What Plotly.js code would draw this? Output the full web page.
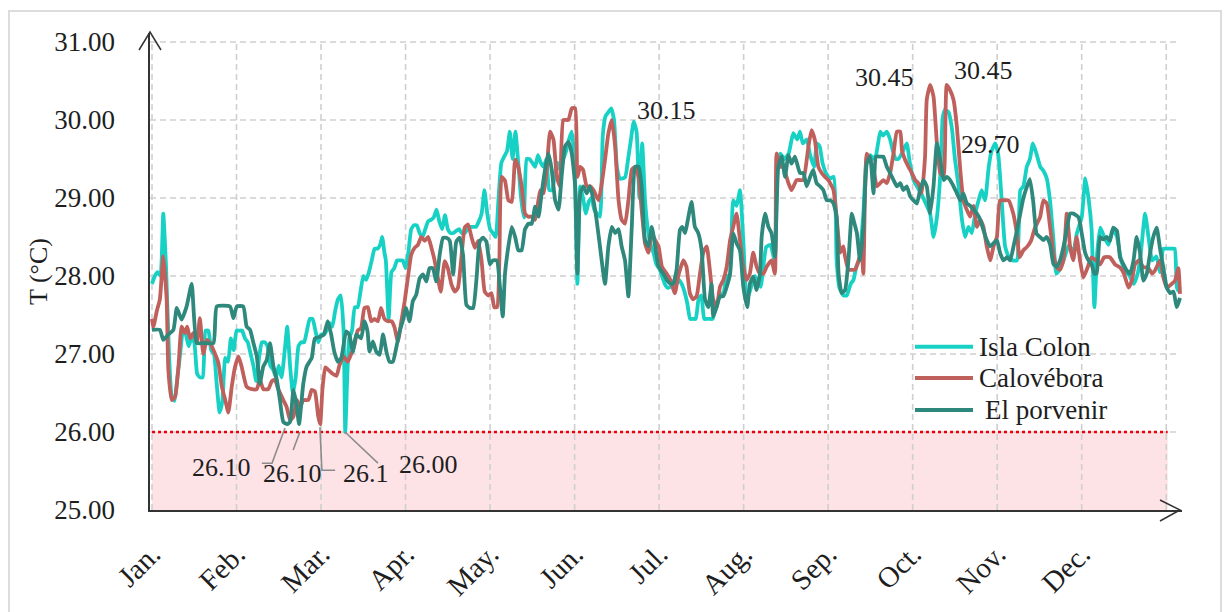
<!DOCTYPE html>
<html>
<head>
<meta charset="utf-8">
<script src="https://cdn.plot.ly/plotly-3.0.1.min.js"></script>
<style>
html,body{margin:0;padding:0;background:#fff;overflow:hidden;}
#wrap{position:relative;width:1232px;height:612px;overflow:hidden;}
#frame{position:absolute;left:8px;top:10px;width:1214px;height:640px;border:2px solid #dcdcdc;box-sizing:border-box;pointer-events:none;z-index:5;}
#chart{position:absolute;left:0;top:0;width:1232px;height:612px;}
</style>
</head>
<body>
<div id="wrap"><div id="chart"></div><div id="frame"></div></div>
<script>
// ---------- data (day of year, temperature °C) ----------
const months = ['Jan.','Feb.','Mar.','Apr.','May.','Jun.','Jul.','Aug.','Sep.','Oct.','Nov.','Dec.'];
const monthDays = [0,30,60,90,120,150,180,210,240,270,300,330];
const gridDays = [0,30,60,90,120,150,180,210,240,270,300,330,360];
const yTicks = [25,26,27,28,29,30,31];
const yTickText = ['25.00','26.00','27.00','28.00','29.00','30.00','31.00'];
const seriesNames = ['Isla Colon','Calovébora','El porvenir'];

const islaDays = [0,1,2,3,4,5,6,7,8,9,10,11,12,13,14,15,16,17,18,19,20,21,22,23,24,25,26,27,28,29,30,31,32,33,34,35,36,37,38,39,40,41,42,43,44,45,46,47,48,49,50,51,52,53,54,55,56,57,58,59,60,
61,62,63,64,65,66,67,68,68.6,69.3,70,71,72,73,74,75,76,77,78,79,80,81,81.7,82.5,83,84,85,86,87,88,89,90,91,92,93,94,95,96,97,98,99,100,101,102,103,104,105,106,107,108,109,110,111,112,113,114,115,116,117,118,119,120,121,122,123,124,125,126,127,128,129,130,131,132,133,134,135,136,137,138,139,140,141,142,143,144,145,146,147,148,149,150,151,152,153,154,155,156,157,158,159,160,161,162,163,164,165,166,167,168,169,170,171,172,173,174,175,176,177,178,179,180,181,182,183,184,185,186,187,188,189,190,191,192,193,194,195,196,197,198,199,200,201,202,203,204,205,206.3,207.5,208.7,210,211,212,214,216,218,219.5,221,222,223,224.5,226,227.6,229,230,231,232.4,233.6,235,236,237,238,239.5,240.7,242,243,244,245.4,246.6,248,249,250,251,252.5,253.7,255,256,257,258.5,259.5,260.8,262,263,264,265,266.5,267.9,269,270.3,271.5,273,275,276.2,277.4,278.6,279.8,280.7,281.5,282.7,283.9,285,286.3,287.5,288.6,289.8,291,292.2,293.4,294.5,295.7,297,298,299.3,300.4,301.6,302.8,304,305.5,307,308.2,309.3,310.5,311.6,312.7,314,315.3,316.4,317.6,318.8,320,321,322.5,324,325.5,327,328.3,330,331.3,332.5,333.5,334.5,335.5,336.6,338,339.5,341,342.5,344,345.4,347,348.5,350,351,352.5,353.7,355,356.5,357.8,359,360.5,362,363,363.8,364.5];
const islaTemp = [27.9,28.0,28.05,28.0,28.8,28.1,27.05,26.45,26.4,26.7,27.0,27.3,27.25,27.1,27.2,27.15,26.75,26.7,26.7,27.3,27.3,27.05,27.0,26.6,26.25,26.4,26.95,26.9,27.2,27.05,27.3,27.3,27.3,27.2,27.15,27.0,26.85,26.65,26.95,27.15,27.15,27.1,26.85,26.8,26.7,26.85,26.7,27.0,27.35,26.85,26.5,26.7,27.1,27.15,27.15,27.3,27.45,27.45,27.3,27.15,27.25,
27.25,27.3,27.4,27.35,27.55,27.7,27.75,27.3,26.0,26.7,27.2,27.3,27.6,27.6,27.8,28.0,27.95,28.05,28.2,28.35,28.35,28.4,28.5,28.3,28.2,27.45,28.05,28.1,28.2,28.2,28.2,28.1,28.3,28.6,28.65,28.65,28.55,28.5,28.6,28.7,28.72,28.75,28.85,28.7,28.6,28.78,28.6,28.55,28.55,28.58,28.6,28.55,28.55,28.6,28.63,28.63,28.63,28.7,28.8,29.1,28.8,28.6,28.55,28.5,29.0,29.45,29.53,29.6,29.85,29.5,29.85,29.45,29.0,28.75,29.5,29.5,29.45,29.4,29.55,29.45,29.4,29.5,29.1,29.1,29.3,29.45,29.35,29.5,29.6,29.75,29.85,29.45,27.9,29.15,29.0,28.8,28.95,29.0,28.85,28.8,28.76,29.8,30.05,30.1,30.15,30.0,29.4,29.25,29.25,29.27,29.5,29.75,29.98,29.85,29.0,29.7,28.97,28.6,28.4,28.3,28.15,28.1,28.0,27.9,27.85,27.86,27.9,27.9,27.95,27.9,27.8,27.65,27.45,27.45,27.45,27.7,27.75,27.45,27.45,27.45,27.45,27.6,27.7,27.75,27.8,28.0,28.0,28.97,28.9,29.1,28.37,27.7,27.78,28.0,27.86,28.37,28.4,28.2,29.4,29.57,29.5,29.57,29.83,29.75,29.85,29.7,29.75,29.55,29.4,29.7,29.66,29.45,29.3,29.25,29.27,28.2,27.85,27.75,27.75,27.9,27.95,28.12,28.2,28.8,29.5,29.55,29.5,29.55,29.85,29.8,29.85,29.75,29.6,29.5,29.5,29.6,29.7,29.45,29.23,29.15,29.06,28.9,28.8,28.5,28.75,29.3,30.04,30.13,30.1,29.9,29.5,29.15,28.72,28.5,28.63,28.55,28.8,28.97,29.1,28.97,29.4,29.6,29.7,29.55,28.97,28.38,28.25,28.2,28.2,29.1,29.15,29.4,29.5,29.7,29.56,29.4,29.35,29.25,28.95,28.45,28.03,28.1,28.25,28.4,28.3,28.55,28.75,29.25,28.97,28.6,27.6,28.3,28.62,28.5,28.4,28.6,28.5,28.2,28.07,28.0,27.9,28.05,28.3,28.8,28.5,28.2,28.25,28.05,28.35,28.35,28.35,28.35,27.85,27.8];

const caloDays = [0,0.5,1.7,2.8,4,5.2,5.8,7,8.2,9.4,10.5,11.7,12.5,13.5,14.7,15.9,17,18.2,19.4,20.6,22.4,23.6,24.8,26,27.1,28.3,29.5,30.7,31.8,33.6,35.4,37.2,38.3,39.5,41.3,42.5,43.6,44.8,46.6,47.8,49,50.2,51.4,52.6,53.7,55.5,56.7,57.8,59,59.7,60.5,61.5,62.5,64,65.5,66.5,68,69.5,70.7,71.9,73,74.2,75.4,76.6,77.8,79,80.2,81.3,82.5,83.7,85,86,87.3,88.5,89.7,90.8,92,93.2,94.4,95.6,96.8,98,99.2,100.3,101.5,102.5,103.9,105,106.3,107.5,108.6,109.8,111,112.2,113.4,114.6,115.8,117,118.1,119.3,120.5,121.5,122.5,123.3,124.1,125.3,126.5,127.7,128.9,130,131.2,132.4,133.6,134.8,136,137.8,139,140.1,141.3,142.5,143.7,144.8,146,147.8,149,150.2,151,152,153,154.3,155.5,156.7,158.5,159.7,160.8,162,163.2,164.4,165.6,166.7,167.9,169.1,170.3,171.5,172.7,173.8,175,176.2,177.4,178.6,179.8,181,182.7,184,185.6,186.8,188.6,189.7,190.9,192,193.3,194.5,195.7,196.9,198,199.2,200.4,201.6,202.8,204,205.2,206.3,207.5,208.7,209.9,211,212.2,213.4,214.6,215.8,217,218.2,219.9,221.1,221.7,222.9,224,225.9,227,228.8,230,231.2,233,234.1,235.3,236.5,237.7,238.9,240,240.7,241.9,243,244.3,245.4,246,247.2,248.4,249.6,250.8,251.9,252.5,253.7,254.9,256.1,257.3,258.5,259.6,260.8,262,263.2,264.4,265.6,266.2,267.3,268.5,269.7,270.9,272,273.2,274.4,275,276.2,277.4,278.6,279.8,281,282.1,283.3,284.5,285.7,286.9,288,289.2,290.4,291.6,292.8,294,295.1,296.3,297.5,298.7,299.9,301,302.5,304,305.7,307,308,309.3,310.5,312,313.4,315.2,316.4,317.6,318.8,320,321.1,322.3,323.5,324.7,325.9,327,328.2,329.4,330.6,332,333.5,335,336.5,338,340,341.8,343.6,345,346.6,347.8,348.9,350.3,351.9,353.5,355,356,357.8,359,360.2,362,363.1,364.3,364.9];
const caloTemp = [27.45,27.35,27.55,27.7,28.25,27.7,26.8,26.41,26.45,26.84,27.35,27.27,27.35,27.2,27.27,27.14,27.46,27.0,27.18,27.14,27.0,26.88,26.58,26.41,26.25,26.58,26.84,26.97,26.84,26.58,26.55,26.55,26.67,26.55,26.55,26.65,26.67,26.55,26.41,26.32,26.15,26.2,26.41,26.32,26.41,26.41,26.54,26.52,26.2,26.1,26.55,26.83,26.8,26.75,26.72,26.85,26.97,26.9,27.0,27.12,27.3,27.33,27.59,27.6,27.42,27.45,27.42,27.59,27.45,27.42,27.42,27.35,27.16,27.42,27.68,27.97,28.27,28.36,28.4,28.5,28.45,28.5,28.36,28.2,27.97,27.8,28.19,28.1,27.89,27.8,27.85,28.23,28.62,28.66,28.5,28.36,28.45,28.19,27.8,27.75,27.78,27.6,27.6,28.2,29.27,29.22,28.97,28.95,29.49,29.4,29.15,28.8,28.76,28.76,28.72,29.1,29.06,29.36,29.85,29.75,29.27,29.15,30.0,30.0,30.15,30.15,29.27,29.4,29.36,29.15,29.15,29.1,28.97,29.2,29.49,29.83,30.0,29.66,28.97,28.72,28.67,28.97,29.36,29.4,29.27,28.85,28.42,28.3,28.55,28.46,28.38,28.12,28.03,27.95,27.78,28.0,28.2,28.12,27.78,27.7,27.74,28.03,28.3,28.38,28.08,27.7,27.6,27.86,27.95,28.12,28.46,28.63,28.8,28.46,28.12,27.95,28.03,28.3,28.12,28.03,28.03,28.12,28.2,28.03,29.57,29.4,29.4,29.19,29.1,29.23,29.23,29.23,29.66,29.87,29.74,29.4,29.32,29.27,29.23,29.19,29.1,28.76,28.3,28.38,28.25,28.08,28.08,28.08,28.2,28.3,28.03,29.57,29.49,29.36,29.15,29.19,29.23,29.19,29.32,29.57,29.85,29.85,29.61,29.49,29.4,29.32,29.23,29.19,29.06,29.53,30.26,30.45,30.3,29.7,29.32,29.27,30.45,30.38,30.26,29.91,29.36,28.97,28.85,28.76,28.9,28.63,28.72,28.63,28.38,28.2,28.38,28.5,28.97,28.97,28.97,28.8,28.54,28.24,28.33,28.37,28.45,28.62,28.75,28.97,28.93,28.62,28.28,28.11,28.08,28.2,28.8,28.37,28.2,28.5,28.2,27.98,28.1,28.24,28.2,28.15,28.24,28.24,28.15,28.11,28.03,27.85,27.94,28.15,28.2,28.11,28.11,28.03,28.07,28.2,27.98,27.85,27.9,27.94,28.1,27.77];

const porvDays = [0,2.8,4,5.8,7.6,8.8,10.5,12.3,14.1,15.9,18.2,21.8,23,27.7,28.9,30.1,32.4,33.6,34.8,36,37.2,38.3,39.5,40.7,41.9,43.1,44.3,45.4,46.6,48,49,50.2,51.3,52.2,53.7,54.9,56.7,57.8,59.6,61,62.4,63.6,64.7,66,67.2,68.9,70,71.3,72.5,74.2,75.4,76.5,77.2,78.4,79.6,80.8,82,83.2,84.3,85.5,86.7,87.9,89,90.2,91.4,92.6,93.8,95,96.2,97.4,98.5,99.7,100.9,102.1,103.3,104.5,105.7,106.9,108,109.2,110.4,111.6,112.8,114,115.2,116.3,117.5,118.7,119.9,121,122.4,123.5,124.5,125.3,126.5,127.7,128.9,130,131.2,132.4,133.6,134.8,136,137.2,138.3,139.5,140.7,141.9,143.1,144.3,145.5,146.6,147.8,149,150.2,151,152,153.1,154.3,155.5,156.7,157.8,159,160.8,162,163.2,164.4,165.6,166.7,167.9,169.1,170.3,171.5,172.7,173.8,175,176.2,177.4,178.6,179.8,181.5,182.7,184,185,186.2,187.4,188.2,189.2,190,191.5,192.1,192.7,193.9,195.1,196.3,197.5,198.6,199.2,200.4,201.6,202.8,204,205.2,206.3,207.5,208.7,209.9,211.3,212.2,213.4,214.6,215.8,216.4,217.6,218.8,219.9,221.1,222.3,223.5,224.7,225.9,227,228.2,230,231.2,232.4,233.6,234.7,235.9,237.1,238.3,239.5,240.7,241.9,243,243.7,244.8,246,247.2,248.4,249,250.2,251.3,252.5,253.7,254.9,256.1,257,258.5,259.6,260.8,262,263.2,264.4,265.6,266.7,267.9,269.1,270.3,271.5,272.6,273.8,275,276.2,277.4,278.6,279.8,281,282.1,283.3,284.5,285.7,286.9,288,289.2,290.4,291.6,292.8,294,295.1,296.3,297.5,298.7,299.9,301,302.2,303.5,304.6,305.8,307,308.2,309.3,310.5,311.6,312.8,314,315.2,316.4,317.6,318.8,320,321.2,322.3,323.5,324.7,325.9,327.1,328.9,330,331.2,332.4,333.5,334.5,335.3,336.5,337.7,338.9,340,341.2,342.5,343.6,344.8,346,347.2,348.4,349.5,350.7,351.9,353.1,354.3,355.4,356.6,357.8,359,360.2,361.4,362.6,363.7,364.9];
const porvTemp = [27.31,27.31,27.18,27.25,27.31,27.59,27.44,27.61,27.9,27.14,27.14,27.14,27.61,27.61,27.46,27.61,27.61,27.35,27.31,27.14,26.97,26.62,26.84,26.92,27.14,26.84,26.67,26.41,26.13,26.1,26.13,26.54,26.35,26.1,26.62,26.84,26.95,27.2,27.22,27.25,27.42,27.25,27.03,26.9,26.95,27.29,27.25,27.03,27.25,27.2,27.42,27.29,27.03,27.16,27.03,26.99,27.25,27.03,26.9,26.9,27.08,27.29,27.42,27.59,27.42,27.68,27.76,27.97,28.02,27.93,28.1,28.1,27.93,28.27,28.49,28.49,28.45,28.02,28.44,28.49,28.27,27.63,27.59,27.59,27.97,28.44,28.49,28.44,28.15,28.2,28.2,27.86,27.48,28.03,28.38,28.63,28.5,28.33,28.33,28.6,28.67,28.67,28.89,28.76,29.06,29.36,29.57,29.36,28.97,28.85,29.32,29.66,29.72,29.57,29.15,28.03,29.06,29.15,29.06,29.15,28.97,28.72,28.38,27.9,28.38,28.63,28.55,28.6,28.38,28.2,27.74,28.63,29.4,29.4,29.15,28.46,28.38,28.63,28.38,28.12,28.03,27.95,27.9,27.9,28.08,28.59,28.63,28.55,28.68,28.95,28.8,28.63,28.55,28.33,27.7,27.6,27.9,27.48,27.6,27.74,27.74,27.86,28.03,28.55,28.42,28.33,27.86,27.6,27.9,27.99,27.82,28.03,28.5,28.8,28.63,28.55,28.25,29.4,29.53,29.27,29.55,29.44,29.53,29.32,29.32,29.15,29.27,29.36,29.19,29.15,29.1,28.97,28.97,28.93,28.76,28.03,27.78,27.82,28.2,28.8,28.72,28.55,28.2,28.63,29.44,29.53,29.06,29.53,29.53,29.53,29.4,29.32,29.23,29.15,29.19,29.1,29.15,29.02,28.97,28.93,29.1,29.23,29.15,28.8,29.15,29.7,29.49,29.23,29.27,29.23,29.15,29.06,28.97,29.06,28.93,28.9,28.85,28.8,28.72,28.59,28.46,28.38,28.42,28.46,28.3,28.2,28.24,28.2,28.38,28.58,28.8,29.0,29.14,29.24,28.95,28.54,28.5,28.46,28.5,28.4,28.15,28.12,28.2,28.37,28.6,28.8,28.8,28.75,28.55,28.3,28.2,28.15,28.03,28.03,28.5,28.47,28.5,28.45,28.62,28.58,28.24,28.15,28.07,28.03,28.2,28.5,28.3,27.94,28.03,28.3,28.5,28.62,28.35,28.1,27.85,27.78,27.8,27.6,27.72];

// peak / minimum labels: [day, temperature position, text]
const labelDays = [24.8,49.7,76,98,182.5,259.9,295.3,297.8];
const labelTemps = [25.55,25.47,25.47,25.58,30.12,30.55,30.64,29.68];
const labelTexts = ['26.10','26.10','26.1','26.00','30.15','30.45','30.45','29.70'];

const threshold = 26;
const colors = ['#17d2c4','#c0605c','#2f887c'];
const FONT = 'Liberation Serif, Times New Roman, serif';

// ---------- traces ----------
const traces = [
  {x: islaDays, y: islaTemp, name: seriesNames[0]},
  {x: caloDays, y: caloTemp, name: seriesNames[1]},
  {x: porvDays, y: porvTemp, name: seriesNames[2]}
].map((t,i)=>Object.assign(t,{type:'scatter',mode:'lines',hoverinfo:'skip',
  line:{color:colors[i],width:3.8,shape:'spline',smoothing:0.45}}));

// ---------- geometry helpers (pixel -> paper) ----------
const L=150, T=33, W=1032, H=477;
const px = x => (x-L)/W;
const py = y => (T+H-y)/H;

const shapes = [];
shapes.push({type:'rect',layer:'below',xref:'x',yref:'y',x0:0,x1:360.5,y0:25,y1:threshold,
  fillcolor:'#fde2e6',line:{width:0}});
gridDays.forEach(d=>shapes.push({type:'line',layer:'below',xref:'x',yref:'y',x0:d,x1:d,y0:25,y1:31,
  line:{color:'#cfcfcf',width:1.6,dash:'6px,4px'}}));
yTicks.slice(1).forEach(v=>shapes.push({type:'line',layer:'below',xref:'x',yref:'y',x0:-0.7,x1:364.3,y0:v,y1:v,
  line:{color:'#cfcfcf',width:1.6,dash:'6px,4px'}}));
shapes.push({type:'line',layer:'below',xref:'x',yref:'y',x0:0,x1:360.5,y0:threshold,y1:threshold,
  line:{color:'#e8000b',width:2.6,dash:'dot'}});
shapes.push({type:'path',xref:'paper',yref:'paper',
  path:`M${px(139)},${py(50)} L${px(150)},${py(32)} L${px(161)},${py(50)}`,line:{color:'#333',width:1.5}});
shapes.push({type:'path',xref:'paper',yref:'paper',
  path:`M${px(1160)},${py(500)} L${px(1180)},${py(510)} L${px(1160)},${py(521)}`,line:{color:'#333',width:1.5}});
const leaders = [
  [[47.2,26.05],[42.6,25.6],[39.0,25.6]],
  [[52.5,26.0],[50.1,25.77]],
  [[59.6,26.06],[60.3,25.51],[65.0,25.51]],
  [[68.5,26.0],[80.2,25.6]]
];
leaders.forEach(pts=>shapes.push({type:'path',xref:'x',yref:'y',
  path:'M'+pts.map(p=>p[0]+','+p[1]).join(' L'),line:{color:'#8c8c8c',width:1.6}}));
const legY=[346.7,378,410];
legY.forEach((y,i)=>shapes.push({type:'line',xref:'paper',yref:'paper',x0:px(915),x1:px(973),y0:py(y),y1:py(y),
  line:{color:colors[i],width:4}}));

const annotations = labelTexts.map((t,i)=>({xref:'x',yref:'y',x:labelDays[i],y:labelTemps[i],text:t,showarrow:false,
  xanchor:'center',yanchor:'middle',font:{family:FONT,size:26,color:'#1e1e1e'}}));
seriesNames.forEach((n,i)=>annotations.push({xref:'paper',yref:'paper',x:px(i===2?983:977),y:py(legY[i]),text:n,
  showarrow:false,xanchor:'left',yanchor:'middle',font:{family:FONT,size:27,color:'#1e1e1e'}}));
annotations.push({xref:'paper',yref:'paper',x:px(38),y:py(272),text:'T (°C)',textangle:-90,showarrow:false,
  xanchor:'center',yanchor:'middle',font:{family:FONT,size:26,color:'#1e1e1e'}});

const layout = {
  width:1232,height:612,
  margin:{l:L,r:1232-L-W,t:T,b:612-T-H,pad:0},
  paper_bgcolor:'#ffffff',plot_bgcolor:'#ffffff',
  showlegend:false,
  xaxis:{range:[-0.71,365.6],showgrid:false,zeroline:false,showline:true,linecolor:'#333',linewidth:1.6,
    tickmode:'array',tickvals:monthDays,ticktext:months,tickangle:-45,ticks:'',ticklabelstandoff:14,
    tickfont:{family:FONT,size:29,color:'#1e1e1e'},fixedrange:true},
  yaxis:{range:[25,31.115],showgrid:false,zeroline:false,showline:true,linecolor:'#333',linewidth:1.6,
    tickmode:'array',tickvals:yTicks,ticktext:yTickText,ticks:'',ticklabelstandoff:28,
    tickfont:{family:FONT,size:27,color:'#1e1e1e'},fixedrange:true},
  shapes:shapes,annotations:annotations
};
Plotly.newPlot('chart',traces,layout,{staticPlot:true,displayModeBar:false});
</script>
</body>
</html>
